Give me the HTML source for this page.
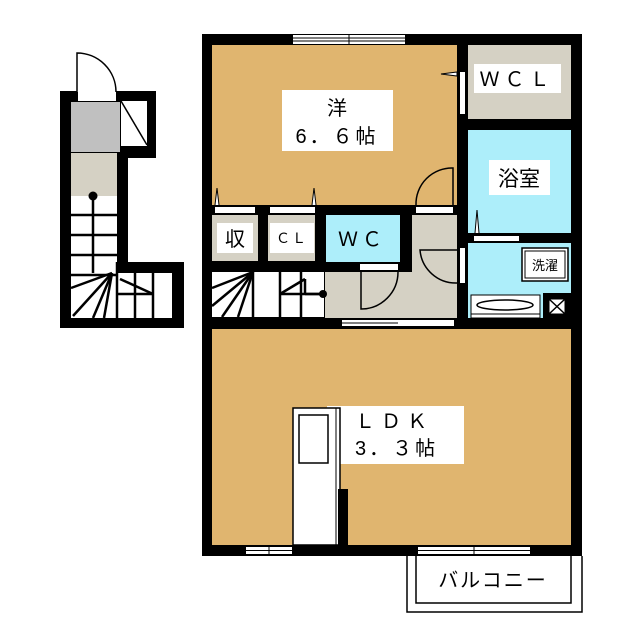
<!DOCTYPE html>
<html><head><meta charset="utf-8"><style>
html,body{margin:0;padding:0;background:#fff;}
svg{display:block;}
text{font-family:"Liberation Sans","Noto Sans CJK JP",sans-serif;fill:#000;}
</style></head><body>
<svg width="640" height="640" viewBox="0 0 640 640" xmlns="http://www.w3.org/2000/svg">
<rect x="202" y="34" width="380" height="522" fill="#000"/>
<rect x="212" y="45" width="245" height="160" fill="#e0b56f"/>
<rect x="468" y="45" width="103" height="74" fill="#d5d1c4"/>
<rect x="468" y="130" width="103" height="103" fill="#adeefa"/>
<rect x="468" y="243" width="103" height="50" fill="#adeefa"/>
<rect x="468" y="293" width="75" height="25" fill="#adeefa"/>
<rect x="212" y="215" width="46" height="46" fill="#d5d1c4"/>
<rect x="268" y="215" width="47" height="46" fill="#d5d1c4"/>
<rect x="326" y="215" width="74" height="47" fill="#adeefa"/>
<rect x="412" y="215" width="45" height="103" fill="#d5d1c4"/>
<rect x="325" y="272" width="132" height="46" fill="#d5d1c4"/>
<rect x="212" y="272" width="112" height="45" fill="#fff"/>
<g stroke="#000" stroke-width="2.5" fill="none">
<line x1="253" y1="272" x2="253" y2="317"/>
<line x1="280" y1="272" x2="280" y2="317"/>
<line x1="280" y1="294" x2="322" y2="294"/>
<line x1="301" y1="272" x2="301" y2="317"/>
<line x1="253" y1="272" x2="212" y2="288"/>
<line x1="253" y1="272" x2="212" y2="306"/>
<line x1="253" y1="272" x2="222" y2="317"/>
<line x1="253" y1="272" x2="238" y2="317"/>
<line x1="280" y1="294" x2="305" y2="279"/>
<line x1="305" y1="279" x2="305" y2="294"/>
<line x1="305" y1="294" x2="323" y2="294"/>
</g>
<circle cx="323" cy="294" r="4" fill="#000"/>
<rect x="212" y="329" width="359" height="216" fill="#e0b56f"/>
<rect x="293" y="35" width="112" height="9" fill="#fff"/>
<line x1="293" y1="38" x2="405" y2="38" stroke="#000" stroke-width="1"/>
<line x1="293" y1="41" x2="405" y2="41" stroke="#000" stroke-width="1"/>
<line x1="349" y1="35" x2="349" y2="44" stroke="#000" stroke-width="1"/>
<rect x="460" y="72" width="5" height="42" fill="#fff"/>
<path d="M457 72 L441 74 L457 76Z" fill="#fff" stroke="#000" stroke-width="1"/>
<rect x="215" y="207" width="40" height="6" fill="#fff"/>
<rect x="270" y="207" width="45" height="6" fill="#fff"/>
<path d="M215 205 L217 188 L219 205" fill="#fff" stroke="#000" stroke-width="1"/>
<path d="M312 205 L314 188 L316 205" fill="#fff" stroke="#000" stroke-width="1"/>
<rect x="416" y="207" width="37" height="6" fill="#fff"/>
<path d="M416 205 A36 36 0 0 1 453 168 L453 205" fill="none" stroke="#000" stroke-width="1.5"/>
<rect x="474" y="236" width="45" height="5" fill="#fff"/>
<path d="M475 233 L477 210 L479 233" fill="#fff" stroke="#000" stroke-width="1"/>
<rect x="460" y="248" width="5" height="35" fill="#fff"/>
<path d="M457 283 A36 36 0 0 1 420 250 L457 250" fill="none" stroke="#000" stroke-width="1.5"/>
<rect x="360" y="264" width="38" height="6" fill="#fff"/>
<path d="M361 272 L361 309 A37 37 0 0 0 398 272" fill="none" stroke="#000" stroke-width="1.5"/>
<rect x="522" y="248" width="46" height="33" fill="#fff" stroke="#000" stroke-width="1.5"/>
<rect x="525" y="251" width="40" height="27" fill="#fff" stroke="#000" stroke-width="1"/>
<text x="545" y="270" font-size="13" text-anchor="middle">洗濯</text>
<rect x="471" y="295" width="69" height="23" fill="#fff" stroke="#000" stroke-width="1"/>
<ellipse cx="505" cy="305" rx="28" ry="5" fill="#fff" stroke="#000" stroke-width="1.5"/>
<line x1="471" y1="314" x2="540" y2="314" stroke="#000" stroke-width="1"/>
<rect x="549" y="299" width="16" height="15" fill="#fff" stroke="#000" stroke-width="1"/>
<path d="M549 299 L565 314 M565 299 L549 314" stroke="#000" stroke-width="1.5"/>
<rect x="342" y="320" width="112" height="6" fill="#fff"/>
<line x1="342" y1="323" x2="398" y2="323" stroke="#000" stroke-width="1"/>
<rect x="246" y="547" width="46" height="7" fill="#fff"/>
<line x1="246" y1="550.5" x2="292" y2="550.5" stroke="#000" stroke-width="1"/>
<line x1="269" y1="547" x2="269" y2="554" stroke="#000" stroke-width="1"/>
<rect x="418" y="547" width="112" height="7" fill="#fff"/>
<line x1="418" y1="550.5" x2="530" y2="550.5" stroke="#000" stroke-width="1"/>
<line x1="474" y1="547" x2="474" y2="554" stroke="#000" stroke-width="1"/>
<path d="M407 556 L407 612 L582 612 L582 556" fill="none" stroke="#000" stroke-width="1.5"/>
<path d="M416 556 L416 603 L571 603 L571 556" fill="none" stroke="#000" stroke-width="1.5"/>
<text x="493" y="587" font-size="20" text-anchor="middle" letter-spacing="2">バルコニー</text>
<rect x="282" y="90" width="111" height="61" fill="#fff"/>
<text x="337" y="115" font-size="20" text-anchor="middle">洋</text>
<text x="337" y="143" font-size="20" text-anchor="middle" letter-spacing="3">6．６帖</text>
<rect x="474" y="64" width="87" height="29" fill="#fff"/>
<text x="517" y="86" font-size="20" text-anchor="middle" letter-spacing="5">ＷＣＬ</text>
<rect x="489" y="160" width="61" height="35" fill="#fff"/>
<text x="519" y="186" font-size="21" text-anchor="middle">浴室</text>
<rect x="217" y="223" width="36" height="30" fill="#fff"/>
<text x="235" y="246" font-size="20" text-anchor="middle">収</text>
<rect x="270" y="223" width="44" height="30" fill="#fff"/>
<text x="292" y="243" font-size="14" text-anchor="middle" letter-spacing="2">ＣＬ</text>
<text x="362" y="246" font-size="20" text-anchor="middle" letter-spacing="4">ＷＣ</text>
<rect x="327" y="406" width="137" height="58" fill="#fff"/>
<text x="355" y="428" font-size="20" letter-spacing="6">ＬＤＫ</text>
<text x="355" y="455" font-size="20" letter-spacing="3">3．３帖</text>
<!-- fridge drawn over label -->
<rect x="293" y="408" width="47" height="137" fill="#fff" stroke="#000" stroke-width="1.5"/>
<rect x="299" y="415" width="29" height="48" fill="#fff" stroke="#000" stroke-width="1.5"/>
<line x1="336" y1="408" x2="336" y2="545" stroke="#000" stroke-width="1"/>
<rect x="338" y="489" width="10" height="67" fill="#000"/>

<path d="M60 91 L156 91 L156 158 L128 158 L128 262 L184 262 L184 328 L60 328 Z" fill="#000"/>
<rect x="71" y="102" width="49" height="50" fill="#c0c0c0"/>
<rect x="121" y="101" width="26" height="45" fill="#fff"/>
<line x1="121" y1="101" x2="147" y2="145" stroke="#000" stroke-width="1.5"/>
<rect x="71" y="153" width="46" height="43" fill="#d5d1c4"/>
<rect x="71" y="196" width="46" height="122" fill="#fff"/>
<rect x="117" y="273" width="55" height="45" fill="#fff"/>
<g stroke="#000" stroke-width="2.5" fill="none">
<line x1="93" y1="196" x2="93" y2="273"/>
<line x1="71" y1="215" x2="117" y2="215"/>
<line x1="71" y1="235" x2="117" y2="235"/>
<line x1="71" y1="255" x2="117" y2="255"/>
<line x1="71" y1="275" x2="117" y2="275"/>
<line x1="117" y1="262" x2="117" y2="318"/>
<line x1="135" y1="273" x2="135" y2="318"/>
<line x1="153" y1="273" x2="153" y2="318"/>
<line x1="117" y1="294" x2="153" y2="294"/>
<line x1="112" y1="273" x2="71" y2="288"/>
<line x1="112" y1="273" x2="73" y2="316"/>
<line x1="112" y1="273" x2="93" y2="318"/>
<line x1="112" y1="273" x2="104" y2="318"/>
<line x1="120" y1="279" x2="153" y2="294"/>
</g>
<circle cx="93" cy="196" r="4.5" fill="#000"/>
<rect x="78" y="92" width="38" height="9" fill="#fff"/>
<path d="M77 92 L77 53 A39 39 0 0 1 116 92" fill="#fff" stroke="#000" stroke-width="1.5"/>
</svg>
</body></html>
